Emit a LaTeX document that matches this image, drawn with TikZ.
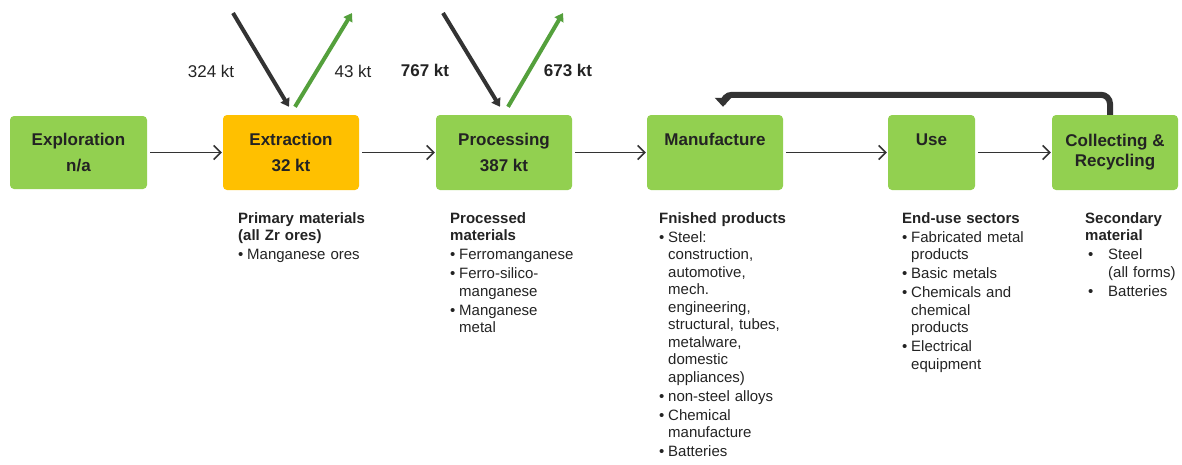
\documentclass[tikz,border=0pt]{standalone}
\usepackage{fontspec}
\setmainfont{Liberation Sans}
\usetikzlibrary{arrows.meta}

\definecolor{boxgreen}{RGB}{146,208,80}
\definecolor{boxorange}{RGB}{255,192,0}
\definecolor{arrowdark}{RGB}{51,51,51}
\definecolor{arrowgreen}{RGB}{84,160,60}
\definecolor{textdark}{RGB}{35,35,35}

% bullet items with hanging lines
\newcommand{\bul}{\par\hangindent=9pt\hangafter=1\makebox[9pt][l]{\textbullet}}
\newcommand{\widebul}{\par\hangindent=23pt\hangafter=1\makebox[23pt][l]{\hspace{3pt}\textbullet}}

\tikzset{
  stage/.style={fill=boxgreen, rounded corners=4pt, minimum height=75pt, inner sep=0pt,
    align=center, text=textdark, font=\fontsize{17}{26}\selectfont\bfseries},
  flow/.style={-{Straight Barb[length=7pt,width=14pt]}, line width=1.6pt, draw=arrowdark,
    shorten <=3pt, shorten >=1pt},
  inflow/.style={-{Triangle[length=8pt,width=10pt]}, line width=4pt, draw=arrowdark},
  outflow/.style={-{Triangle[length=8pt,width=10pt]}, line width=4pt, draw=arrowgreen},
  feedback/.style={-{Triangle[length=9pt,width=16pt]}, line width=6pt, draw=arrowdark,
    rounded corners=9pt},
  amount/.style={text=textdark, font=\fontsize{17}{20}\selectfont},
  notes/.style={anchor=north west, inner sep=0pt, text width=175pt, align=left,
    text=textdark, font=\fontsize{15}{17.5}\selectfont\setlength{\parskip}{1.5pt}},
}

\begin{document}
\begin{tikzpicture}[x=1pt,y=-1pt]
\useasboundingbox (0,0) rectangle (1182,464);

%%% stages
\node[stage, minimum width=137pt, minimum height=73pt] (expl) at (78.5,152.5) {Exploration\\n/a};
\node[stage, minimum width=136pt, fill=boxorange] (extr) at (291,152.5) {Extraction\\32 kt};
\node[stage, minimum width=136pt] (proc) at (504,152.5) {Processing\\387 kt};
\node[stage, minimum width=136pt] (manu) at (715,152.5) {Manufacture\\\mbox{}};
\node[stage, minimum width=87pt] (use) at (931.5,152.5) {Use\\\mbox{}};
\node[stage, minimum width=126pt, font=\fontsize{17}{20}\selectfont\bfseries] (recy) at (1115,152.5) {Collecting \&\\Recycling};

%% main chain
\draw[flow] (expl.east) -- (extr.west);
\draw[flow] (extr.east) -- (proc.west);
\draw[flow] (proc.east) -- (manu.west);
\draw[flow] (manu.east) -- (use.west);
\draw[flow] (use.east) -- (recy.west);

%% recycling back to manufacture
\draw[feedback] ([xshift=-5pt]recy.north) |- ([shift={(8pt,20pt)}]manu.north) -- ([shift={(8pt,8pt)}]manu.north);

%% trade flows
\coordinate (extrImp) at (233,13);
\coordinate (extrExp) at (352,13);
\coordinate (procImp) at (443,13);
\coordinate (procExp) at (563,13);

\draw[inflow] (extrImp) -- ([shift={(-2pt,8pt)}]extr.north);
\draw[outflow] ([shift={(4pt,8pt)}]extr.north) -- (extrExp);
\draw[inflow] (procImp) -- ([shift={(-4pt,8pt)}]proc.north);
\draw[outflow] ([shift={(4pt,8pt)}]proc.north) -- (procExp);

\node[amount] (extrImpVal) at (211,71) {324 kt};
\node[amount] (extrExpVal) at (353,71) {43 kt};
\node[amount, font=\fontsize{17}{20}\selectfont\bfseries] (procImpVal) at (425,70) {767 kt};
\node[amount, font=\fontsize{17}{20}\selectfont\bfseries] (procExpVal) at (568,70) {673 kt};

%% materials per stage
\node[notes] (primary) at (238,212) {{\bfseries Primary materials\newline (all Zr ores)}
  \bul Manganese ores\par};
\node[notes] (processed) at (450,212) {{\bfseries Processed\newline materials}
  \bul Ferromanganese
  \bul Ferro-silico-\newline manganese
  \bul Manganese\newline metal\par};
\node[notes] (finished) at (659,212) {{\bfseries Fnished products}
  \bul Steel:\newline construction,\newline automotive,\newline mech.\newline engineering,\newline structural, tubes,\newline metalware,\newline domestic\newline appliances)
  \bul non-steel alloys
  \bul Chemical\newline manufacture
  \bul Batteries\par};
\node[notes] (enduse) at (902,212) {{\bfseries End-use sectors}
  \bul Fabricated metal\newline products
  \bul Basic metals
  \bul Chemicals and\newline chemical\newline products
  \bul Electrical\newline equipment\par};
\node[notes] (secondary) at (1085,212) {{\bfseries Secondary\newline material}
  \widebul Steel\newline (all forms)
  \widebul Batteries\par};

\end{tikzpicture}
\end{document}
